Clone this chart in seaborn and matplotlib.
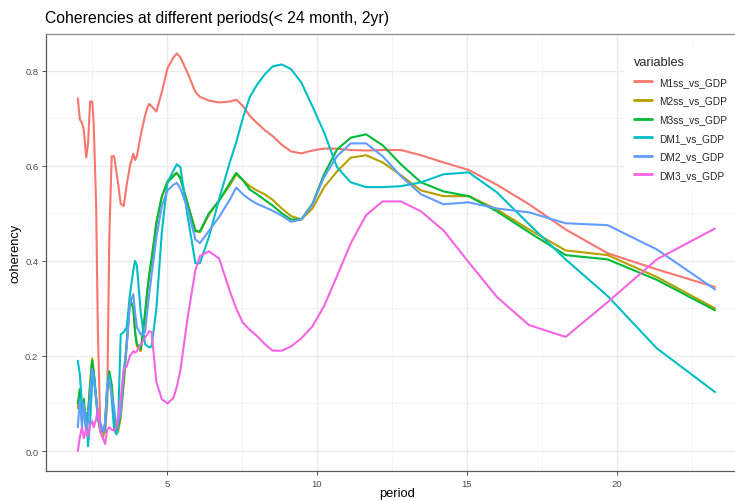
import matplotlib
matplotlib.use("Agg")
import matplotlib.pyplot as plt
from matplotlib.ticker import MultipleLocator
import seaborn as sns
import pandas as pd

# ---------------- data ----------------
period = [2.03, 2.10, 2.17, 2.23, 2.31, 2.37, 2.44, 2.51, 2.56, 2.64,
          2.70, 2.78, 2.88, 2.94, 3.01, 3.08, 3.16, 3.24, 3.32, 3.37,
          3.46, 3.56, 3.66, 3.77, 3.88, 3.94, 4.00, 4.13, 4.27, 4.34,
          4.41, 4.49, 4.65, 4.83, 5.02, 5.22, 5.33, 5.45, 5.69, 5.95,
          6.10, 6.40, 6.74, 7.11, 7.31, 7.53, 7.76, 8.00, 8.26, 8.53,
          8.83, 9.14, 9.48, 9.85, 10.24, 10.67, 11.13, 11.64, 12.19, 12.80,
          13.47, 14.22, 15.06, 16.00, 17.07, 18.29, 19.69, 21.33, 23.27]

m1ss = [0.742, 0.697, 0.690, 0.675, 0.617, 0.645, 0.735, 0.735, 0.690, 0.520,
        0.250, 0.050, 0.040, 0.040, 0.100, 0.450, 0.620, 0.620, 0.585, 0.565,
        0.520, 0.515, 0.560, 0.600, 0.625, 0.612, 0.620, 0.665, 0.705, 0.720,
        0.730, 0.725, 0.714, 0.755, 0.805, 0.828, 0.836, 0.828, 0.795, 0.755,
        0.745, 0.737, 0.733, 0.735, 0.739, 0.726, 0.705, 0.690, 0.675, 0.662,
        0.644, 0.630, 0.626, 0.632, 0.636, 0.636, 0.633, 0.632, 0.633, 0.633,
        0.622, 0.607, 0.591, 0.560, 0.519, 0.466, 0.416, 0.382, 0.345]

m2ss = [0.090, 0.130, 0.060, 0.100, 0.040, 0.070, 0.140, 0.195, 0.170, 0.110,
        0.070, 0.040, 0.030, 0.050, 0.120, 0.155, 0.130, 0.070, 0.037, 0.040,
        0.070, 0.140, 0.220, 0.320, 0.300, 0.250, 0.220, 0.210, 0.280, 0.330,
        0.370, 0.400, 0.480, 0.535, 0.568, 0.580, 0.585, 0.575, 0.520, 0.465,
        0.460, 0.497, 0.527, 0.560, 0.582, 0.570, 0.557, 0.548, 0.540, 0.528,
        0.510, 0.494, 0.487, 0.510, 0.555, 0.588, 0.617, 0.622, 0.607, 0.580,
        0.548, 0.536, 0.536, 0.508, 0.466, 0.422, 0.412, 0.366, 0.300]

m3ss = [0.100, 0.130, 0.070, 0.110, 0.050, 0.080, 0.140, 0.190, 0.165, 0.110,
        0.070, 0.045, 0.040, 0.060, 0.130, 0.168, 0.140, 0.080, 0.045, 0.050,
        0.080, 0.150, 0.230, 0.320, 0.300, 0.250, 0.225, 0.215, 0.290, 0.335,
        0.370, 0.405, 0.480, 0.535, 0.565, 0.578, 0.585, 0.573, 0.520, 0.462,
        0.462, 0.500, 0.526, 0.565, 0.585, 0.570, 0.550, 0.540, 0.528, 0.516,
        0.500, 0.487, 0.487, 0.520, 0.582, 0.634, 0.659, 0.666, 0.643, 0.603,
        0.565, 0.546, 0.536, 0.504, 0.460, 0.412, 0.403, 0.360, 0.296]

dm1 = [0.190, 0.160, 0.095, 0.070, 0.080, 0.010, 0.060, 0.150, 0.165, 0.115,
       0.070, 0.050, 0.040, 0.050, 0.140, 0.160, 0.110, 0.045, 0.035, 0.050,
       0.245, 0.250, 0.260, 0.330, 0.380, 0.400, 0.390, 0.290, 0.225, 0.221,
       0.218, 0.220, 0.300, 0.460, 0.565, 0.590, 0.603, 0.597, 0.494, 0.395,
       0.395, 0.450, 0.530, 0.610, 0.649, 0.700, 0.744, 0.770, 0.792, 0.809,
       0.813, 0.803, 0.775, 0.725, 0.670, 0.597, 0.565, 0.555, 0.555, 0.557,
       0.565, 0.582, 0.586, 0.544, 0.477, 0.403, 0.326, 0.216, 0.124]

dm2 = [0.050, 0.110, 0.050, 0.100, 0.040, 0.060, 0.120, 0.172, 0.150, 0.110,
       0.080, 0.060, 0.040, 0.060, 0.140, 0.150, 0.120, 0.090, 0.053, 0.060,
       0.080, 0.170, 0.220, 0.310, 0.330, 0.290, 0.260, 0.245, 0.250, 0.290,
       0.330, 0.370, 0.450, 0.515, 0.548, 0.560, 0.564, 0.552, 0.510, 0.445,
       0.437, 0.463, 0.492, 0.530, 0.554, 0.540, 0.529, 0.520, 0.513, 0.505,
       0.495, 0.482, 0.487, 0.518, 0.576, 0.620, 0.647, 0.647, 0.620, 0.578,
       0.540, 0.519, 0.523, 0.510, 0.502, 0.479, 0.475, 0.424, 0.340]

dm3 = [0.000, 0.030, 0.050, 0.027, 0.046, 0.030, 0.055, 0.063, 0.050, 0.067,
       0.088, 0.040, 0.025, 0.015, 0.045, 0.050, 0.045, 0.043, 0.050, 0.068,
       0.110, 0.172, 0.178, 0.200, 0.210, 0.207, 0.210, 0.225, 0.238, 0.245,
       0.252, 0.250, 0.145, 0.109, 0.100, 0.112, 0.135, 0.170, 0.280, 0.380,
       0.410, 0.420, 0.405, 0.334, 0.300, 0.270, 0.255, 0.242, 0.225, 0.211,
       0.211, 0.220, 0.237, 0.262, 0.305, 0.368, 0.437, 0.496, 0.525, 0.525,
       0.504, 0.464, 0.397, 0.324, 0.265, 0.240, 0.313, 0.403, 0.468]

variables = ["M1ss_vs_GDP", "M2ss_vs_GDP", "M3ss_vs_GDP",
             "DM1_vs_GDP", "DM2_vs_GDP", "DM3_vs_GDP"]
colors = ["#F8766D", "#B79F00", "#00BA38", "#00BFC4", "#619CFF", "#F564E3"]

series = [m1ss, m2ss, m3ss, dm1, dm2, dm3]
frames = [pd.DataFrame({"period": period, "coherency": vals, "variables": name})
          for name, vals in zip(variables, series)]
df = pd.concat(frames, ignore_index=True)

# ---------------- style ----------------
sns.set_style("white")
plt.rcParams["font.family"] = ["Liberation Sans", "DejaVu Sans"]

W, H = 735, 502
fig = plt.figure(figsize=(W / 100, H / 100), dpi=100)
left, right, top, bottom = 46, 748, 35, 472
ax = fig.add_axes([left / W, 1 - bottom / H, (right - left) / W, (bottom - top) / H])

sns.lineplot(data=df, x="period", y="coherency", hue="variables",
             hue_order=variables, palette=colors, estimator=None, sort=False,
             linewidth=1.5, ax=ax)

ax.set_xlim(0.97, 24.37)
ax.set_ylim(-0.042, 0.877)

ax.xaxis.set_minor_locator(MultipleLocator(2.5))
ax.yaxis.set_minor_locator(MultipleLocator(0.1))
ax.set_yticks([0.0, 0.2, 0.4, 0.6, 0.8])
ax.set_yticklabels(["0.0", "0.2", "0.4", "0.6", "0.8"])
ax.set_xticks([5, 10, 15, 20])
ax.set_xticklabels(["5", "10", "15", "20"])

ax.grid(which="major", color="#EBEBEB", linewidth=1.0)
ax.grid(which="minor", color="#F3F3F3", linewidth=0.6)
ax.set_axisbelow(True)

for s in ["left", "bottom", "top"]:
    ax.spines[s].set_visible(True)
    ax.spines[s].set_color("#5A5A5A")
    ax.spines[s].set_linewidth(0.9)
ax.spines["top"].set_color("#8A8A8A")
ax.spines["right"].set_visible(False)

ax.tick_params(which="major", direction="out", length=3, width=0.6,
               color="#333333", labelsize=6.8, labelcolor="#4D4D4D", pad=2.5)
ax.tick_params(which="minor", length=0)
ax.tick_params(axis="x", bottom=True)
ax.tick_params(axis="y", left=True)

ax.set_xlabel("")
ax.set_ylabel("")
fig.text((left + right) / 2 / W, 1 - 494 / H, "period", fontsize=9.3,
         color="black", ha="center", va="center")
fig.text(16 / W, 1 - 253 / H, "coherency", fontsize=9.3, color="black",
         ha="center", va="center", rotation=90)

fig.text(45 / W, 1 - 19 / H, "Coherencies at different periods(< 24 month, 2yr)",
         fontsize=11.3, color="black", ha="left", va="center")

handles, labels = ax.get_legend_handles_labels()
if ax.get_legend() is not None:
    ax.get_legend().remove()
for h in handles:
    h.set_linewidth(2.0)
leg = fig.legend(handles, labels, title="variables", loc="upper left",
                 bbox_to_anchor=(619 / W, 1 - 42 / H), frameon=True,
                 facecolor="white", edgecolor="none", framealpha=1.0,
                 fontsize=7.3, title_fontsize=9.2, handlelength=1.76,
                 handletextpad=0.69, labelspacing=0.85, borderpad=1.0,
                 alignment="left", fancybox=False)

fig.savefig("out.png", dpi=100)
